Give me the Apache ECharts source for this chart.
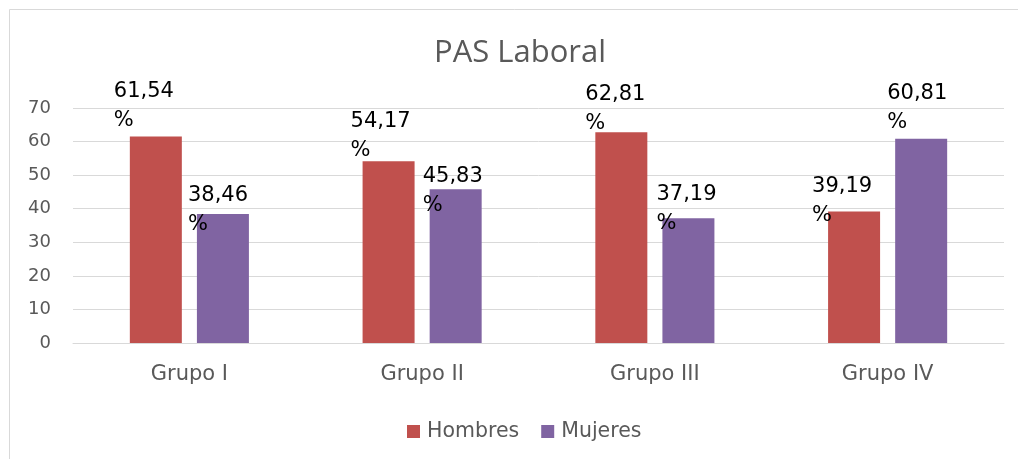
<!DOCTYPE html>
<html>
<head>
<meta charset="utf-8">
<script src="https://cdn.jsdelivr.net/npm/echarts@6/dist/echarts.min.js"></script>
<style>
    html, body { margin: 0; padding: 0; background: #fff; }
    #chart { width: 1018px; height: 459px; }
</style>
</head>
<body>
<div id="chart"></div>
<script>
    var categories = ['Grupo I', 'Grupo II', 'Grupo III', 'Grupo IV'];
    var hombres = [61.54, 54.17, 62.81, 39.19];
    var mujeres = [38.46, 45.83, 37.19, 60.81];
    var yTicks = [0, 10, 20, 30, 40, 50, 60, 70];

    // where each data label sits relative to the top-left corner of its bar
    var hombresLabelShift = [[-16, -59], [-12, -54], [-10, -52], [-16, -39]];
    var mujeresLabelShift = [[-9, -33], [-7, -27], [-6, -38], [-8, -60]];

    function fmt(v) {
        return v.toFixed(2).replace('.', ',') + '\n%';
    }

    function withLabels(values, shifts) {
        return values.map(function (v, i) {
            return { value: v, label: { position: shifts[i] } };
        });
    }

    var chart = echarts.init(document.getElementById('chart'));
    chart.setOption({
        backgroundColor: '#fff',
        animation: false,
        graphic: [{
            type: 'rect',
            shape: { x: 9.5, y: 9.5, width: 1100, height: 600 },
            style: { fill: 'none', stroke: '#d9d9d9', lineWidth: 1 },
            silent: true
        }],
        title: {
            text: 'PAS Laboral',
            left: 429,
            top: 33,
            textStyle: {
                color: '#595959',
                fontFamily: 'Open Sans',
                fontWeight: 'normal',
                fontSize: 31
            }
        },
        legend: {
            data: ['Hombres', 'Mujeres'],
            left: 402,
            top: 416,
            icon: 'rect',
            itemWidth: 13,
            itemHeight: 13,
            itemGap: 22,
            textStyle: {
                color: '#595959',
                fontFamily: 'DejaVu Sans',
                fontSize: 20.5,
                padding: [0, 0, 0, 2]
            }
        },
        grid: {
            left: 73,
            right: 14,
            top: 108,
            bottom: 116
        },
        xAxis: {
            type: 'category',
            data: categories,
            axisLine: { lineStyle: { color: '#d9d9d9' } },
            axisTick: { show: false },
            axisLabel: {
                color: '#595959',
                fontFamily: 'DejaVu Sans',
                fontSize: 21,
                margin: 21
            }
        },
        yAxis: {
            type: 'value',
            min: yTicks[0],
            max: yTicks[yTicks.length - 1],
            interval: yTicks[1] - yTicks[0],
            axisLine: { show: false },
            axisTick: { show: false },
            splitLine: { lineStyle: { color: '#d9d9d9' } },
            axisLabel: {
                color: '#595959',
                fontFamily: 'DejaVu Sans',
                fontSize: 18,
                margin: 22
            }
        },
        series: [{
            name: 'Hombres',
            type: 'bar',
            barWidth: 52,
            barGap: '29%',
            itemStyle: { color: '#c0504d' },
            label: {
                show: true,
                align: 'left',
                verticalAlign: 'top',
                color: '#000',
                fontFamily: 'DejaVu Sans',
                fontSize: 21,
                lineHeight: 29,
                formatter: function (p) { return fmt(p.value); }
            },
            data: withLabels(hombres, hombresLabelShift)
        }, {
            name: 'Mujeres',
            type: 'bar',
            barWidth: 52,
            itemStyle: { color: '#8064a2' },
            label: {
                show: true,
                align: 'left',
                verticalAlign: 'top',
                color: '#000',
                fontFamily: 'DejaVu Sans',
                fontSize: 21,
                lineHeight: 29,
                formatter: function (p) { return fmt(p.value); }
            },
            data: withLabels(mujeres, mujeresLabelShift)
        }]
    });
</script>
</body>
</html>
